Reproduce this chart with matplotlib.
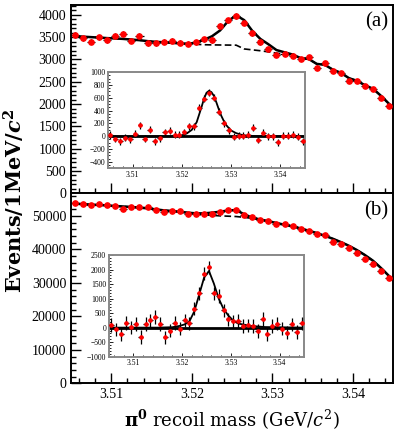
import numpy as np
import matplotlib
matplotlib.use("Agg")
import matplotlib.pyplot as plt
from matplotlib.ticker import MultipleLocator

plt.rcParams['font.family'] = ['Liberation Serif', 'DejaVu Serif']
plt.rcParams['mathtext.fontset'] = 'stix'

# bin centres, 1 MeV bins from 3.505 to 3.545
mass = np.round(np.arange(3.5055, 3.5450, 0.001), 4)

# panel (a): data, total fit, background
data_a = [3551, 3476, 3400, 3499, 3438, 3528, 3580, 3422, 3528, 3364,
          3364, 3400, 3422, 3378, 3348, 3386, 3454, 3438, 3753, 3873,
          3978, 3827, 3588, 3386, 3229, 3101, 3124, 3079, 3011, 3049,
          2816, 2915, 2742, 2690, 2524, 2517, 2404, 2330, 2128, 1955]
fit_a = [3520, 3510, 3500, 3490, 3478, 3470, 3460, 3445, 3432, 3410,
         3395, 3385, 3372, 3360, 3352, 3375, 3440, 3520, 3650, 3860,
         3990, 3880, 3640, 3460, 3340, 3210, 3160, 3110, 3030, 3010,
         2900, 2880, 2770, 2700, 2580, 2520, 2420, 2340, 2180, 2000]
bkg_a = [3520, 3510, 3500, 3490, 3478, 3470, 3460, 3445, 3432, 3410,
         3395, 3385, 3372, 3360, 3350, 3340, 3330, 3326, 3324, 3322,
         3320, 3235, 3215, 3195, 3170, 3140, 3120, 3095, 3030, 3010,
         2900, 2880, 2770, 2700, 2580, 2520, 2420, 2340, 2180, 2000]

# inset (a): background subtracted
sub_a = [20, -40, -80, -25, -50, 40, 170, -35, 105, -80,
         -30, 60, 90, 25, 25, 65, 155, 155, 445, 590,
         680, 600, 380, 200, 95, -10, 10, 10, 26, 130,
         -53, 53, 0, 0, -95, 10, 10, 26, -10, -80]
sub_a_err = 55
curve_a_x = [3.505, 3.518, 3.519, 3.520, 3.521, 3.522, 3.523, 3.524, 3.5245,
             3.525, 3.5255, 3.526, 3.5265, 3.527, 3.5275, 3.528, 3.5285,
             3.529, 3.5295, 3.530, 3.531, 3.532, 3.533, 3.535, 3.545]
curve_a_y = [0, 0, 5, 15, 45, 100, 220, 460, 590, 680, 710, 690, 630, 530,
             420, 320, 240, 175, 130, 90, 50, 25, 12, 3, 0]

# panel (b)
data_b = [53870, 53580, 53160, 53580, 53370, 53070, 52180, 52680, 52680, 52580,
          51880, 51190, 51580, 51380, 50690, 50690, 50590, 50690, 51190, 51680,
          51680, 50190, 49590, 48880, 48390, 47700, 47610, 46870, 46190, 45390,
          44600, 44200, 42270, 41490, 40300, 38990, 37010, 35620, 33520, 31520]
fit_b = [53700, 53550, 53400, 53300, 53150, 53000, 52850, 52700, 52500, 52300,
         52000, 51700, 51500, 51250, 51000, 50800, 50800, 51000, 51300, 51650,
         51800, 50500, 49500, 48950, 48450, 47900, 47400, 46900, 46300, 45600,
         44900, 44100, 43200, 42200, 41100, 39800, 38300, 36600, 34400, 32000]
bkg_b = [53700, 53550, 53400, 53300, 53150, 53000, 52850, 52700, 52500, 52300,
         52000, 51700, 51500, 51250, 51000, 50500, 50350, 50200, 50050, 49950,
         49850, 49600, 49300, 48950, 48450, 47900, 47400, 46900, 46300, 45600,
         44900, 44100, 43200, 42200, 41100, 39800, 38300, 36600, 34400, 32000]

sub_b = [92, -60, -225, 160, 10, 130, -320, 130, 255, 360,
         130, -330, -100, 165, -40, 255, 145, 655, 1180, 1860,
         2070, 1175, 1090, 590, 290, 215, 230, 58, 81, 58,
         -116, 291, -233, 58, 140, -35, -174, 116, -151, 151]
sub_b_err = 230
curve_b_x = [3.505, 3.515, 3.518, 3.5195, 3.5205, 3.5215, 3.5225, 3.5235,
             3.5245, 3.5255, 3.5265, 3.5275, 3.5285, 3.5295, 3.5305, 3.5315,
             3.534, 3.537, 3.545]
curve_b_y = [0, 0, 15, 60, 110, 220, 560, 1140, 1720, 1950, 1520, 1000,
             640, 410, 240, 140, 60, 20, 0]

xlim = (3.505, 3.545)

fig = plt.figure(figsize=(3.98, 4.36), dpi=100)
ax_a = fig.add_axes([0.1784, 0.5567, 0.8098, 0.4318])
ax_b = fig.add_axes([0.1784, 0.1209, 0.8098, 0.4358])


def style_main(ax):
    ax.set_xlim(*xlim)
    for s in ax.spines.values():
        s.set_linewidth(1.4)
    ax.tick_params(which='both', direction='in', top=False, right=False,
                   labelsize=10, width=1.0)
    ax.tick_params(which='major', length=7)
    ax.tick_params(which='minor', length=3.5)
    ax.xaxis.set_major_locator(MultipleLocator(0.01))
    ax.xaxis.set_minor_locator(MultipleLocator(0.002))


def draw_main(ax, data, fit, bkg):
    err = np.sqrt(data)
    ax.errorbar(mass, data, xerr=0.0005, yerr=err, fmt='none', ecolor='black',
                elinewidth=0.9, zorder=3)
    ax.plot(mass, data, 'o', color='red', ms=3.8, mec='red', zorder=4)
    ax.plot(mass, bkg, '--', color='black', lw=1.2, dashes=(4, 2), zorder=2)
    ax.plot(mass, fit, '-', color='black', lw=1.8, zorder=2)


def draw_inset(ax, sub, err, cx, cy, ylim, ystep, yminor):
    ax.set_xlim(*xlim)
    ax.set_ylim(*ylim)
    ax.axhline(0, color='black', lw=2.0, zorder=1)
    ax.plot(cx, cy, '-', color='black', lw=1.3, zorder=2)
    ax.errorbar(mass, sub, xerr=0.0005, yerr=err, fmt='none', ecolor='black',
                elinewidth=0.9, zorder=3)
    ax.plot(mass, sub, 'o', color='red', ms=2.3, mec='red', zorder=4)
    for s in ax.spines.values():
        s.set_linewidth(1.4)
        s.set_color('#888888')
    ax.tick_params(which='both', direction='in', top=False, right=False,
                   labelsize=5.5, width=0.6, pad=2)
    ax.tick_params(which='major', length=3)
    ax.tick_params(which='minor', length=1.5)
    ax.xaxis.set_major_locator(MultipleLocator(0.01))
    ax.xaxis.set_minor_locator(MultipleLocator(0.002))
    ax.yaxis.set_major_locator(MultipleLocator(ystep))
    ax.yaxis.set_minor_locator(MultipleLocator(yminor))
    ax.set_xticks([3.51, 3.52, 3.53, 3.54])
    ax.set_xticklabels(['3.51', '3.52', '3.53', '3.54'])


# panel (a)
style_main(ax_a)
draw_main(ax_a, data_a, fit_a, bkg_a)
ax_a.set_ylim(0, 4220)
ax_a.yaxis.set_major_locator(MultipleLocator(500))
ax_a.yaxis.set_minor_locator(MultipleLocator(100))
ax_a.tick_params(labelbottom=False)
ax_a.text(0.985, 0.91, '(a)', transform=ax_a.transAxes, ha='right',
          va='center', fontsize=15)

# panel (b)
style_main(ax_b)
draw_main(ax_b, data_b, fit_b, bkg_b)
ax_b.set_ylim(0, 56800)
ax_b.yaxis.set_major_locator(MultipleLocator(10000))
ax_b.yaxis.set_minor_locator(MultipleLocator(2000))
ax_b.set_xticks([3.51, 3.52, 3.53, 3.54])
ax_b.set_xticklabels(['3.51', '3.52', '3.53', '3.54'])
ax_b.text(0.985, 0.91, '(b)', transform=ax_b.transAxes, ha='right',
          va='center', fontsize=15)

# insets
in_a = fig.add_axes([0.2714, 0.614, 0.495, 0.2202])
draw_inset(in_a, sub_a, sub_a_err, curve_a_x, curve_a_y, (-500, 1000), 200, 50)
in_b = fig.add_axes([0.2739, 0.1819, 0.49, 0.2333])
draw_inset(in_b, sub_b, sub_b_err, curve_b_x, curve_b_y, (-1000, 2500), 500, 100)

fig.text(0.036, 0.54, r'Events/1MeV/$\mathbfit{c}^{\mathbf{2}}$', rotation=90,
         ha='center', va='center', fontsize=15, fontweight='bold',
         family='DejaVu Serif', math_fontfamily='dejavuserif')
fig.text(0.583, 0.037, r'$\mathbf{\pi^{0}}$ recoil mass (GeV/$c^{2}$)',
         ha='center', va='center', fontsize=13, family='DejaVu Serif',
         math_fontfamily='dejavuserif')

fig.savefig('out.png', dpi=100)
